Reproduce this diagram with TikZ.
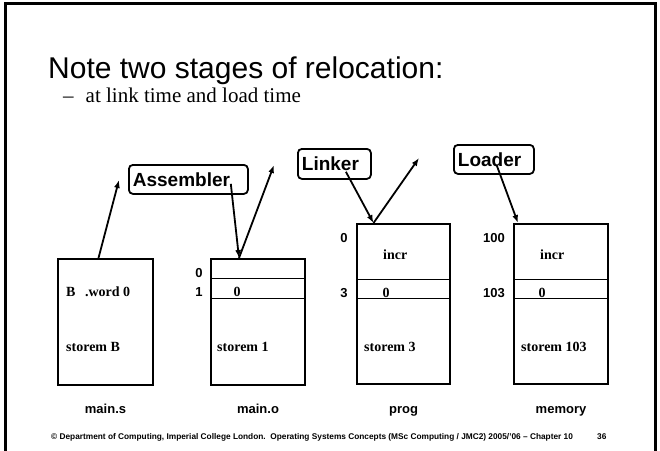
\documentclass[tikz,border=0pt]{standalone}
\usepackage{fontspec}
\setmainfont{Liberation Serif}
\setsansfont{Liberation Sans}
\usetikzlibrary{arrows.meta,positioning,calc}
\tikzstyle{membox}=[draw=black,line width=2pt,inner sep=0pt,anchor=north west]
\tikzstyle{tool}=[draw=black,line width=1.8pt,rounded corners=4pt,anchor=north west,
  inner ysep=0pt,inner xsep=4pt,align=left,font=\sffamily\bfseries\fontsize{19}{19}\selectfont]
\tikzstyle{cell}=[anchor=west,inner sep=0pt,font=\rmfamily\bfseries\fontsize{14}{14}\selectfont]
\tikzstyle{addr}=[inner sep=0pt,font=\sffamily\bfseries\fontsize{13}{13}\selectfont]
\tikzstyle{caption}=[inner sep=0pt,anchor=base,font=\sffamily\bfseries\fontsize{13}{13}\selectfont]
\tikzstyle{divider}=[line width=0.8pt]
\tikzstyle{flow}=[line width=1.8pt,-{Latex[length=8pt,width=6pt]}]
\begin{document}
\begin{tikzpicture}[x=1pt,y=-1pt]
    \useasboundingbox (0,0) rectangle (660,450);
    \draw [line width=3pt] (5,455) -- (5,3) -- (655,3) -- (655,455);
    % heading
    \node [anchor=base west,inner sep=0pt,font=\sffamily\fontsize{30}{30}\selectfont] (title) at (48,78) {Note two stages of relocation:};
    \node [anchor=base west,inner sep=0pt,font=\rmfamily\fontsize{21}{21}\selectfont] (subtitle) at (63,102) {–\hspace{12pt}at link time and load time};
    % the four images of the program
    \node [membox,minimum width=95pt,minimum height=126pt] (mains) at (57,258) {};
    \node [membox,minimum width=94pt,minimum height=126pt] (maino) at (210,258) {};
    \node [membox,minimum width=93pt,minimum height=160pt] (prog) at (356,223) {};
    \node [membox,minimum width=94pt,minimum height=160pt] (memory) at (513,223) {};
    \draw [divider] ([yshift=-20pt]maino.north west) -- ([yshift=-20pt]maino.north east);
    \draw [divider] ([yshift=-40pt]maino.north west) -- ([yshift=-40pt]maino.north east);
    \foreach \b in {prog,memory} {
        \draw [divider] ([yshift=-56pt]\b.north west) -- ([yshift=-56pt]\b.north east);
        \draw [divider] ([yshift=-75pt]\b.north west) -- ([yshift=-75pt]\b.north east);
    }
    % contents
    \node [cell] (mains-word) at (66,292) {B\hspace{6pt} .word 0};
    \node [cell] (mains-store) at (66,347) {storem B};
    \node [cell,anchor=center] (maino-zero) at (237,292) {0};
    \node [cell] (maino-store) at (217,347) {storem 1};
    \node [cell] (prog-incr) at (383,255) {incr};
    \node [cell,anchor=center] (prog-zero) at (386,293) {0};
    \node [cell] (prog-store) at (364,347) {storem 3};
    \node [cell] (memory-incr) at (540,255) {incr};
    \node [cell,anchor=center] (memory-zero) at (542,293) {0};
    \node [cell] (memory-store) at (521,347) {storem 103};
    % addresses
    \node [addr] (a0) at (199,273) {0};
    \node [addr] (a1) at (199,292) {1};
    \node [addr] (b0) at (344,238) {0};
    \node [addr] (b3) at (344,293) {3};
    \node [addr] (c0) at (494,238) {100};
    \node [addr] (c3) at (494,293) {103};
    % captions
    \node [caption] (mains-cap) at ([yshift=-27pt]mains.south) {main.s};
    \node [caption] (maino-cap) at ([yshift=-27pt]maino.south) {main.o};
    \node [caption] (prog-cap) at ([yshift=-28pt]prog.south) {prog};
    \node [caption] (memory-cap) at ([yshift=-28pt]memory.south) {memory};
    % tools
    \node [tool,text width=111pt,minimum height=29pt] (assembler) at (128,164) {Assembler};
    \node [tool,text width=65pt,minimum height=30pt] (linker) at (297,148) {Linker};
    \node [tool,text width=72pt,minimum height=29pt] (loader) at (453,144) {Loader};
    \coordinate (mains-up) at (119,180);
    \coordinate (maino-up) at (274,165);
    \coordinate (prog-up) at (419,158);
    \draw [flow] ([xshift=-7pt]mains.north) -- (mains-up);
    \draw [flow] ([xshift=-18pt,yshift=11pt]assembler.south east) -- ([xshift=-19pt]maino.north);
    \draw [flow] ([xshift=-19pt]maino.north) -- (maino-up);
    \draw [flow] ([xshift=11.5pt,yshift=8pt]linker.south) -- ([xshift=-30pt]prog.north);
    \draw [flow] ([xshift=-30pt]prog.north) -- (prog-up);
    \draw [flow] ([xshift=3pt,yshift=9pt]loader.south) -- ([xshift=5pt]memory.north west);
    % footer
    \node [anchor=base west,inner sep=0pt,font=\sffamily\bfseries\fontsize{8.3}{8.3}\selectfont] (footer) at (51,439) {© Department of Computing, Imperial College London.\ \ Operating Systems Concepts (MSc Computing / JMC2) 2005/'06 – Chapter 10};
    \node [anchor=base west,inner sep=0pt,font=\sffamily\bfseries\fontsize{8.3}{8.3}\selectfont] (page) at (597,439) {36};
\end{tikzpicture}
\end{document}
